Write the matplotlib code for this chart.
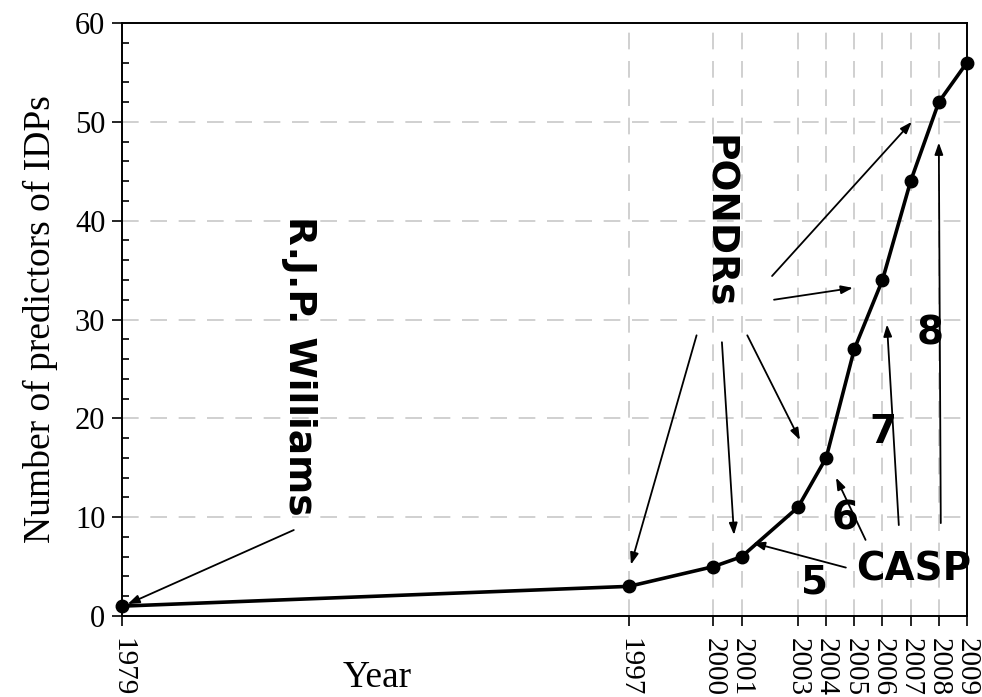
import matplotlib
matplotlib.use("Agg")
import matplotlib.pyplot as plt
from matplotlib.ticker import MultipleLocator

years = [1979, 1997, 2000, 2001, 2003, 2004, 2005, 2006, 2007, 2008, 2009]
n_predictors = [1, 3, 5, 6, 11, 16, 27, 34, 44, 52, 56]

# (text xy) -> (arrow head xy) pairs, in data units
williams_arrow = ((1985.1, 8.7), (1979.2, 1.2))
pondr_arrows = [
    ((1999.4, 28.4), (1997.07, 5.2)),
    ((2000.3, 27.7), (2000.73, 8.2)),
    ((2001.2, 28.4), (2003.07, 17.8)),
    ((2002.15, 32.0), (2004.95, 33.2)),
    ((2002.08, 34.4), (2007.04, 50.0)),
]
casp_arrows = [
    ((2004.7, 4.9), (2001.4, 7.4)),
    ((2005.4, 7.7), (2004.35, 14.0)),
    ((2006.58, 9.2), (2006.16, 29.5)),
    ((2008.07, 9.4), (2008.0, 47.9)),
]
casp_rounds = ["5", "6", "7", "8"]
casp_round_pos = [(2003.6, 3.4), (2004.67, 9.9), (2006.0, 18.6), (2007.68, 28.6)]

serif = "Liberation Serif"
bold_sans = dict(family="DejaVu Sans", weight="bold")

fig = plt.figure(figsize=(9.82, 6.97), dpi=100)
ax = fig.add_axes([0.1242, 0.1162, 0.8605, 0.8508])

ax.plot(years, n_predictors, color="black", lw=2.6, marker="o", ms=9,
        clip_on=False, zorder=5)

ax.set_xlim(1979, 2009)
ax.set_ylim(0, 60)
ax.set_xticks(years)
ax.set_xticklabels([str(y) for y in years], rotation=-90, fontfamily=serif,
                   fontsize=21)
ax.yaxis.set_major_locator(MultipleLocator(10))
ax.yaxis.set_minor_locator(MultipleLocator(2))
for lbl in ax.get_yticklabels():
    lbl.set_fontfamily(serif)
    lbl.set_fontsize(22)

ax.tick_params(axis="both", which="major", direction="out", length=7,
               width=1.2, color="black")
ax.tick_params(axis="x", which="major", pad=9)
ax.tick_params(axis="y", which="major", pad=5)
ax.tick_params(axis="y", which="minor", direction="in", length=5, width=1.2)

ax.grid(True, which="major", color="#c8c8c8", lw=1.2, ls=(0, (10, 7)))
ax.set_axisbelow(True)
for sp in ax.spines.values():
    sp.set_linewidth(1.4)

ax.set_ylabel("Number of predictors of IDPs", fontfamily=serif, fontsize=27,
              labelpad=12)
ax.set_xlabel("Year", fontfamily=serif, fontsize=27)
ax.xaxis.set_label_coords(0.302, -0.075)

arrow_style = dict(arrowstyle="-|>,head_length=0.7,head_width=0.25",
                   color="black", lw=1.3, shrinkA=0, shrinkB=0)

ax.text(1985.3, 25.3, "R.J.P. Williams", rotation=-90, ha="center",
        va="center", fontsize=27, **bold_sans)
ax.annotate("", xy=williams_arrow[1], xytext=williams_arrow[0],
            arrowprops=arrow_style)

ax.text(2000.15, 39.9, "PONDRs", rotation=-90, ha="center", va="center",
        fontsize=27, **bold_sans)
for start, end in pondr_arrows:
    ax.annotate("", xy=end, xytext=start, arrowprops=arrow_style)

ax.text(2007.1, 4.7, "CASP", ha="center", va="center", fontsize=28,
        **bold_sans)
for start, end in casp_arrows:
    ax.annotate("", xy=end, xytext=start, arrowprops=arrow_style)
for label, (x, y) in zip(casp_rounds, casp_round_pos):
    ax.text(x, y, label, ha="center", va="center", fontsize=28, **bold_sans)

fig.savefig("out.png", dpi=100)
